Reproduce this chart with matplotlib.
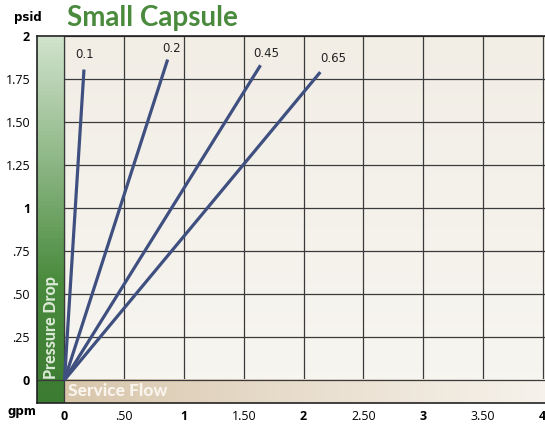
import numpy as np
import matplotlib.pyplot as plt
from matplotlib.colors import LinearSegmentedColormap

# data: straight lines from (0, 0)
ratings = ['0.1', '0.2', '0.45', '0.65']
flow_end = [0.163, 0.863, 1.64, 2.14]        # gpm
pressure_end = [1.805, 1.863, 1.83, 1.79]    # psid
label_x = [0.17, 0.896, 1.685, 2.25]
label_y = [1.89, 1.925, 1.896, 1.867]

x_ticks = [0, 0.5, 1, 1.5, 2, 2.5, 3, 3.5, 4]
x_labels = ['0', '.50', '1', '1.50', '2', '2.50', '3', '3.50', '4']
y_ticks = [0, 0.25, 0.5, 0.75, 1, 1.25, 1.5, 1.75, 2]
y_labels = ['0', '.25', '.50', '.75', '1', '1.25', '1.50', '1.75', '2']

line_col = '#3f5080'
title_col = '#4a8a3c'

x0, x1 = -0.23, 4.02
y0, y1 = -0.134, 2

fig = plt.figure(figsize=(5.45, 4.26), dpi=100)
ax = fig.add_axes([37 / 545, 23 / 426, 1 - 37 / 545, 390 / 426 - 23 / 426])
ax.set_xlim(x0, x1)
ax.set_ylim(y0, y1)

# plot background (slight vertical gradient)
bg = LinearSegmentedColormap.from_list('bg', ['#f7f5f0', '#f2eee6'])
ax.imshow(np.linspace(0, 1, 50).reshape(-1, 1), cmap=bg, origin='lower',
          extent=[0, x1, 0, y1], aspect='auto', zorder=0)

# green "Pressure Drop" bar
gr = LinearSegmentedColormap.from_list('gr', ['#3c7b32', '#4a8b3e', '#8fb887', '#d0e2cc'])
ax.imshow(np.linspace(0, 1, 100).reshape(-1, 1), cmap=gr, origin='lower',
          extent=[x0, 0, y0, y1], aspect='auto', zorder=3)

# tan "Service Flow" band
tan = LinearSegmentedColormap.from_list('tan', ['#d8c6ab', '#e9dece', '#f6f2eb'])
ax.imshow(np.linspace(0, 1, 100).reshape(1, -1), cmap=tan, origin='lower',
          extent=[0, x1, y0, 0], aspect='auto', zorder=3)

ax.set_xticks(x_ticks)
ax.set_yticks(y_ticks)
ax.grid(True, color='#3a3a3a', lw=0.9, zorder=1)
ax.set_axisbelow(True)
ax.tick_params(length=0, pad=5)
ax.set_xticklabels(x_labels, fontsize=9, family='Open Sans')
ax.set_yticklabels(y_labels, fontsize=9, family='Open Sans')
for lab in ax.get_xticklabels() + ax.get_yticklabels():
    if '.' not in lab.get_text():
        lab.set_fontweight('bold')

for s in ['left', 'bottom', 'top']:
    ax.spines[s].set_color('#222222')
    ax.spines[s].set_linewidth(1.2)
    ax.spines[s].set_zorder(5)
ax.spines['right'].set_visible(False)
ax.axhline(0, color='#3a3a3a', lw=0.9, zorder=4)
ax.axvline(0, color='#3a3a3a', lw=0.9, zorder=4)

for name, fx, py, lx, ly in zip(ratings, flow_end, pressure_end, label_x, label_y):
    ax.plot([0, fx], [0, py], color=line_col, lw=2.3, solid_capstyle='butt', zorder=6)
    ax.text(lx, ly, name, fontsize=8.5, ha='center', va='center', color='#222222', zorder=6)

ax.text(-0.112, 0.005, 'Pressure Drop', rotation=90, ha='center', va='bottom',
        fontsize=11.5, fontweight='black', color='#dbe9d6', family='Lato', zorder=7)
ax.text(0.03, -0.067, 'Service Flow', ha='left', va='center',
        fontsize=12.5, fontweight='black', color='#f9f5ee', family='Lato', zorder=7)

fig.text(67 / 545, 1 - 18 / 426, 'Small Capsule', fontsize=20, fontweight='bold',
         color=title_col, family='Lato', ha='left', va='center')
fig.text(28 / 545, 1 - 17 / 426, 'psid', fontsize=8.5, fontweight='bold', ha='center', va='center')
fig.text(22 / 545, 1 - 412 / 426, 'gpm', fontsize=8.5, fontweight='bold', ha='center', va='center')

fig.savefig('out.png', dpi=100)
